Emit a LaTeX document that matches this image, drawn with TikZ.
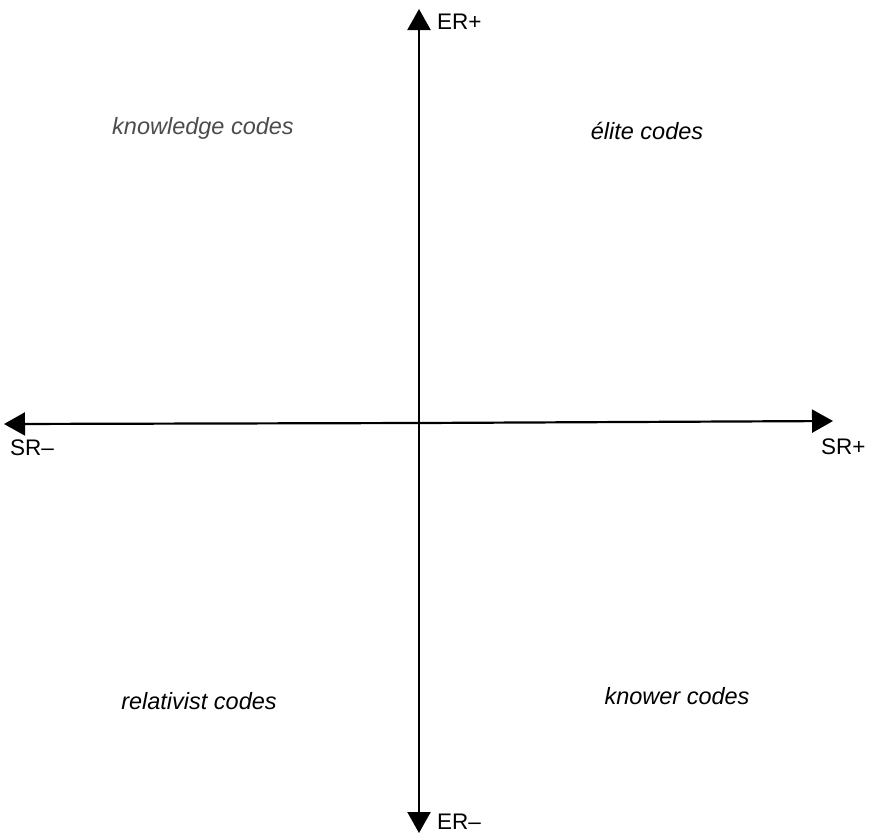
\documentclass[tikz,border=0pt]{standalone}
\usepackage{fontspec}
\setmainfont{Liberation Sans}
\usetikzlibrary{arrows.meta}
\begin{document}
\begin{tikzpicture}[x=1pt,y=-1pt,
  axis/.style={line width=2.2pt,-{Triangle[length=21pt,width=23pt]}},
  lbl/.style={font=\fontsize{22.5}{26}\selectfont,inner sep=0pt},
  quad/.style={font=\fontsize{23.5}{27}\selectfont\itshape,inner sep=0pt}]
\useasboundingbox (0,0) rectangle (869,836);
\coordinate (c) at (419,423);
\coordinate (top) at (419,9);
\coordinate (bot) at (419,833);
\coordinate (left) at (4,424);
\coordinate (right) at (833,421);
\draw[axis] (c) -- (top);
\draw[axis] (c) -- (bot);
\draw[axis] (c) -- (left);
\draw[axis] (c) -- (right);
\node[lbl,anchor=west] (erp) at (437,22) {ER+};
\node[lbl,anchor=west] (erm) at (437,822) {ER–};
\node[lbl,anchor=west] (srm) at (10,448) {SR–};
\node[lbl,anchor=west] (srp) at (821,447) {SR+};
\node[quad,text=black!70] (kc) at (203,128) {knowledge codes};
\node[quad] (ec) at (647,131) {élite codes};
\node[quad] (rc) at (199,701) {relativist codes};
\node[quad] (kw) at (677,696) {knower codes};
\end{tikzpicture}
\end{document}
